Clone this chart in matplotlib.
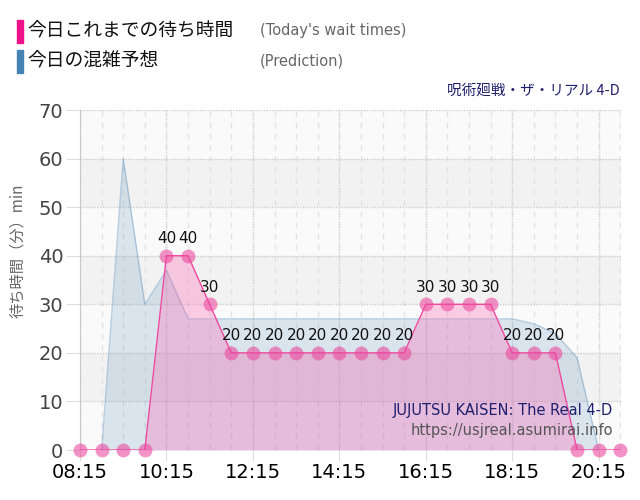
import numpy as np
import matplotlib.pyplot as plt
from matplotlib.patches import Rectangle

plt.rcParams['font.family'] = ['DejaVu Sans', 'Noto Sans CJK JP']

# today's wait times, every 30 min
times = ["08:15", "08:45", "09:15", "09:45", "10:15", "10:45", "11:15", "11:45",
         "12:15", "12:45", "13:15", "13:45", "14:15", "14:45", "15:15", "15:45",
         "16:15", "16:45", "17:15", "17:45", "18:15", "18:45", "19:15", "19:45",
         "20:15", "20:45"]
wait = [0, 0, 0, 0, 40, 40, 30, 20, 20, 20, 20, 20, 20, 20, 20, 20,
        30, 30, 30, 30, 20, 20, 20, 0, 0, 0]

# prediction
pred_times = ["08:45", "09:15", "09:45", "10:15", "10:45", "11:15", "11:45",
              "12:15", "12:45", "13:15", "13:45", "14:15", "14:45", "15:15",
              "15:45", "16:15", "16:45", "17:15", "17:45", "18:15", "18:45",
              "19:15", "19:45", "20:15"]
pred = [0, 60, 30, 37, 27, 27, 27, 27, 27, 27, 27, 27, 27, 27,
        27, 27, 27, 27, 27, 27, 26, 24, 19, 0]

tick_labels = ["08:15", "10:15", "12:15", "14:15", "16:15", "18:15", "20:15"]


def to_min(t):
    h, m = t.split(":")
    return int(h) * 60 + int(m)


x = np.array([to_min(t) for t in times])
xp = np.array([to_min(t) for t in pred_times])
xt = [to_min(t) for t in tick_labels]

fig = plt.figure(figsize=(6.4, 5), dpi=100)
ax = fig.add_axes([80 / 640, 50 / 500, 541 / 640, 340 / 500])

ax.set_facecolor('#fafafa')
for lo in (10, 30, 50):
    ax.axhspan(lo, lo + 10, color='#f2f2f2', zorder=0, lw=0)

# grid
for xv in x:
    ax.axvline(xv, color='#e3e3e3', lw=1, ls=(0, (4, 4)), zorder=0.5)
for xv in xt:
    ax.axvline(xv, color='#d6d6d6', lw=1, ls=(0, (1, 1)), zorder=0.6)
for yv in range(10, 71, 10):
    ax.axhline(yv, color='#cccccc', lw=1, ls=(0, (1, 1)), zorder=0.6)

# prediction area
ax.fill_between(xp, pred, 0, color='steelblue', alpha=0.18, lw=0, zorder=1)
ax.plot(xp, pred, color='steelblue', alpha=0.35, lw=1, zorder=1.1)

# wait times
ax.fill_between(x, wait, 0, color='#ff6ab6', alpha=0.32, lw=0, zorder=2)
ax.plot(x, wait, color='#ee4aa0', lw=1, zorder=3)
ax.plot(x, wait, 'o', ms=10, color='#ec4aa0', alpha=0.6, mec='none',
        zorder=4, clip_on=False)
for xv, v in zip(x, wait):
    if v > 0:
        ax.annotate(str(v), (xv, v), xytext=(0, 7), textcoords='offset points',
                    ha='center', va='bottom', fontsize=11, color='#111111',
                    zorder=5)

ax.set_xlim(x[0], x[-1] + 1)
ax.set_ylim(0, 70)
ax.set_xticks(xt)
ax.set_xticklabels(tick_labels, fontsize=14, color='#000000')
ax.set_yticks(range(0, 71, 10))
ax.tick_params(axis='y', labelsize=14, labelcolor='#444444', color='#dddddd',
               length=10, pad=2)
ax.tick_params(axis='x', color='#dddddd', length=8, pad=1)
for s in ('top', 'right', 'bottom'):
    ax.spines[s].set_visible(False)
ax.spines['left'].set_color('#c8c8c8')

ax.set_ylabel('待ち時間（分）min', fontsize=11, color='#666666',
              family=['Noto Sans CJK JP', 'DejaVu Sans'])
ax.yaxis.set_label_coords(-0.1, 0.585)

# watermark
ax.text(0.985, 0.115, 'JUJUTSU KAISEN: The Real 4-D', transform=ax.transAxes,
        ha='right', va='center', fontsize=10.5, color='#1f1f6e', zorder=6)
ax.text(0.985, 0.056, 'https://usjreal.asumirai.info', transform=ax.transAxes,
        ha='right', va='center', fontsize=10.5, color='#555555', zorder=6)

# legend / header
fig.add_artist(Rectangle((17 / 640, 1 - 43 / 500), 6 / 640, 23 / 500,
                         transform=fig.transFigure, color='#ee1188'))
fig.add_artist(Rectangle((17 / 640, 1 - 73 / 500), 6 / 640, 23 / 500,
                         transform=fig.transFigure, color='#4682b4'))
jp = ['Noto Sans CJK JP', 'DejaVu Sans']
fig.text(27 / 640, 1 - 31 / 500, '今日これまでの待ち時間', family=jp,
         fontsize=13.5, va='center', color='#111111')
fig.text(27 / 640, 1 - 61 / 500, '今日の混雑予想', family=jp,
         fontsize=13.5, va='center', color='#111111')
fig.text(260 / 640, 1 - 31 / 500, "(Today's wait times)", fontsize=10.5,
         va='center', color='#666666')
fig.text(260 / 640, 1 - 61 / 500, '(Prediction)', fontsize=10.5,
         va='center', color='#666666')
fig.text(620 / 640, 1 - 91 / 500, '呪術廻戦・ザ・リアル 4-D', family=jp,
         fontsize=10.5, ha='right', va='center', color='#1f1f6e')

fig.savefig('out.png', dpi=100)
